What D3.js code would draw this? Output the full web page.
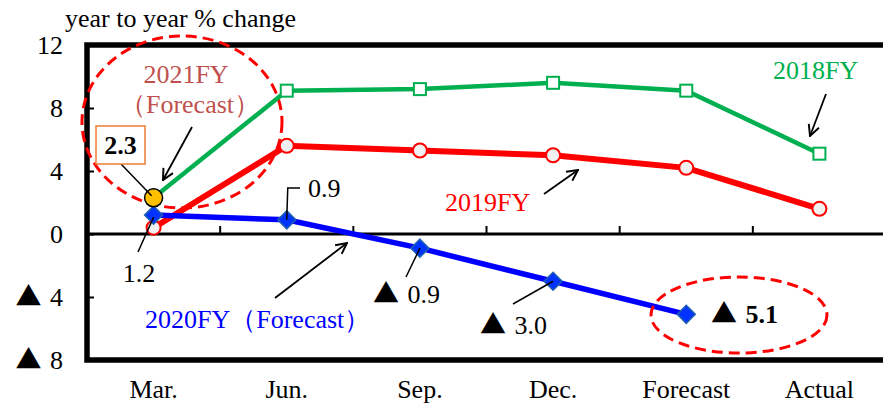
<!DOCTYPE html>
<html>
<head>
<meta charset="utf-8">
<script src="https://cdn.jsdelivr.net/npm/d3@7"></script>
<style>
  body { margin: 0; background: #fff; }
  svg { display: block; }
  text { font-family: "Liberation Serif", "Times New Roman", serif; }
  .tri { font-family: "Noto Sans CJK JP", sans-serif; }
</style>
</head>
<body>
<svg width="883" height="403"></svg>
<script>
//	chart data
var categories = ["Mar.", "Jun.", "Sep.", "Dec.", "Forecast", "Actual"];
var fy2018 = [2.3, 9.1, 9.2, 9.6, 9.1, 5.1];
var fy2019 = [0.4, 5.6, 5.3, 5.0, 4.2, 1.6];
var fy2020 = [1.2, 0.9, -0.9, -3.0, -5.1];
var fy2021 = [2.3];
var yTicks = [-8, -4, 0, 4, 8, 12];
var yTickLabels = ["▲ 8", "▲ 4", "0", "4", "8", "12"];
var yTitle = "year to year % change";

var svg = d3.select("svg");
var fs = 26;
//	plot box (window.top is read only, so no "top" var here)
var pL = 87, pR = 886, pT = 45, pB = 360;

var x = d3.scaleBand().domain(categories).range([pL, pR]);
var y = d3.scaleLinear().domain([-8, 12]).range([pB, pT]);
function cx(i) { return x(categories[i]) + x.bandwidth() / 2; }

//	put the ▲ of a negative label in a font where it is full size
function fillText(t, s) {
	t.text(null);
	if (s.charAt(0) == "▲") {
		t.append("tspan").attr("class", "tri").text("▲");
		t.append("tspan").attr("dx", 2).text(s.slice(1));
	} else {
		t.text(s);
	}
}

var defs = svg.append("defs");
defs.append("marker")
	.attr("id", "arr")
	.attr("viewBox", "0 0 12 12")
	.attr("refX", 11).attr("refY", 6)
	.attr("markerWidth", 13).attr("markerHeight", 13)
	.attr("markerUnits", "userSpaceOnUse")
	.attr("orient", "auto")
	.append("path")
		.attr("d", "M1,1 L11,6 L1,11")
		.attr("fill", "none")
		.attr("stroke", "#000")
		.attr("stroke-width", 1.8);

//	y axis labels + inner ticks
var yAxis = d3.axisLeft(y)
	.tickValues(yTicks)
	.tickFormat(function(d, i) { return yTickLabels[i]; })
	.tickSizeInner(-7)
	.tickSizeOuter(0)
	.tickPadding(24);
var ga = svg.append("g").attr("transform", "translate(" + pL + ",0)").call(yAxis);
ga.select(".domain").remove();
ga.selectAll("line").attr("stroke", "#000").attr("stroke-width", 2);
ga.selectAll("text").attr("font-size", fs).attr("fill", "#000")
	.attr("font-family", "Liberation Serif, serif")
	.each(function(d, i) { fillText(d3.select(this), yTickLabels[i]); });

svg.append("text").attr("x", 65).attr("y", 27).attr("font-size", fs).text(yTitle);

//	zero line with category separator ticks
svg.append("line").attr("x1", pL).attr("x2", pR)
	.attr("y1", y(0)).attr("y2", y(0))
	.attr("stroke", "#000").attr("stroke-width", 3);
svg.selectAll(".sep").data(categories.slice(1)).enter().append("line")
	.attr("x1", function(d) { return x(d); }).attr("x2", function(d) { return x(d); })
	.attr("y1", y(0)).attr("y2", y(0) - 8)
	.attr("stroke", "#000").attr("stroke-width", 2);

//	x labels
svg.selectAll(".xl").data(categories).enter().append("text")
	.attr("x", function(d) { return x(d) + x.bandwidth() / 2; })
	.attr("y", 398)
	.attr("text-anchor", "middle")
	.attr("font-size", fs)
	.text(function(d) { return d; });

//	frame
svg.append("path")
	.attr("d", "M" + pR + "," + pT + " L" + pL + "," + pT + " L" + pL + "," + pB + " L" + pR + "," + pB)
	.attr("fill", "none").attr("stroke", "#000").attr("stroke-width", 5.5);

var line = d3.line().x(function(d, i) { return cx(i); }).y(function(d) { return y(d); });

//	ellipse round 2021FY
svg.append("ellipse").attr("cx", 182).attr("cy", 122).attr("rx", 100).attr("ry", 86)
	.attr("fill", "none").attr("stroke", "#ff0000").attr("stroke-width", 3)
	.attr("stroke-dasharray", "11,6");

//	lines
svg.append("path").attr("d", line(fy2018)).attr("fill", "none")
	.attr("stroke", "#00b050").attr("stroke-width", 4.5);
svg.append("path").attr("d", line(fy2019)).attr("fill", "none")
	.attr("stroke", "#ff0000").attr("stroke-width", 6);
svg.append("path").attr("d", line(fy2020)).attr("fill", "none")
	.attr("stroke", "#0000ff").attr("stroke-width", 5.5);

//	markers
svg.selectAll(".m18").data(fy2018).enter().append("rect")
	.attr("x", function(d, i) { return cx(i) - 6; })
	.attr("y", function(d) { return y(d) - 6; })
	.attr("width", 12).attr("height", 12)
	.attr("fill", "#fff").attr("stroke", "#00b050").attr("stroke-width", 2);
svg.selectAll(".m19").data(fy2019).enter().append("circle")
	.attr("cx", function(d, i) { return cx(i); })
	.attr("cy", function(d) { return y(d); })
	.attr("r", 7)
	.attr("fill", "#f0f0f0").attr("stroke", "#ff0000").attr("stroke-width", 2);
svg.selectAll(".m20").data(fy2020).enter().append("path")
	.attr("transform", function(d, i) { return "translate(" + cx(i) + "," + y(d) + ")"; })
	.attr("d", "M0,-9 L9,0 L0,9 L-9,0 Z")
	.attr("fill", "#0033ff").attr("stroke", "#1f5fb0").attr("stroke-width", 1.5);
svg.selectAll(".m21").data(fy2021).enter().append("circle")
	.attr("cx", function(d, i) { return cx(i); })
	.attr("cy", function(d) { return y(d); })
	.attr("r", 9)
	.attr("fill", "#ffc000").attr("stroke", "#000").attr("stroke-width", 1.5);

//	annotations
function arrow(x1, y1, x2, y2) {
	svg.append("line").attr("x1", x1).attr("y1", y1).attr("x2", x2).attr("y2", y2)
		.attr("stroke", "#000").attr("stroke-width", 1.8).attr("marker-end", "url(#arr)");
}
function leader(pts) {
	svg.append("path").attr("d", d3.line()(pts)).attr("fill", "none")
		.attr("stroke", "#000").attr("stroke-width", 1.5);
}
function label(tx, ty, s, opt) {
	opt = opt || {};
	var t = svg.append("text").attr("x", tx).attr("y", ty)
		.attr("text-anchor", opt.anchor || "start")
		.attr("font-size", opt.size || fs)
		.attr("font-weight", opt.bold ? "bold" : null)
		.attr("fill", opt.color || "#000");
	fillText(t, s);
	return t;
}

//	2021FY
label(186, 83, "2021FY", {anchor: "middle", color: "#c0504d"});
label(190, 113, "（Forecast）", {anchor: "middle", color: "#c0504d"});
arrow(192, 127, 163, 180);
leader([[121, 164], [cx(0) - 2, y(fy2021[0]) - 2]]);
svg.append("rect").attr("x", 96).attr("y", 126).attr("width", 49).attr("height", 38)
	.attr("fill", "#fff").attr("stroke", "#ed7d31").attr("stroke-width", 1.5);
label(120.5, 154, fy2021[0].toFixed(1), {anchor: "middle", bold: true});

//	2020FY labels
function fmt(v) { return v < 0 ? "▲ " + Math.abs(v).toFixed(1) : v.toFixed(1); }
leader([[138, 252], [cx(0), y(fy2020[0]) + 2]]);
label(139, 282, fmt(fy2020[0]), {anchor: "middle"});
leader([[cx(1), y(fy2020[1])], [cx(1) + 1, 188], [300, 188]]);
label(308, 197, fmt(fy2020[1]));
leader([[cx(2), y(fy2020[2])], [406, 277]]);
label(373, 303, fmt(fy2020[2]));
leader([[cx(3), y(fy2020[3])], [513, 304]]);
label(480, 334, fmt(fy2020[3]));
label(711, 323, fmt(fy2020[4]), {bold: true});
svg.append("ellipse").attr("cx", 739).attr("cy", 315).attr("rx", 88).attr("ry", 38)
	.attr("fill", "none").attr("stroke", "#ff0000").attr("stroke-width", 3)
	.attr("stroke-dasharray", "11,6");

label(145, 328, "2020FY（Forecast）", {color: "#0000ff"});
arrow(275, 298, 347, 243);

//	2019FY
label(445, 211, "2019FY", {color: "#ff0000"});
arrow(544, 194, 578, 170);

//	2018FY
label(773, 79, "2018FY", {color: "#00b050"});
arrow(826, 94, 810, 136);
</script>
</body>
</html>
